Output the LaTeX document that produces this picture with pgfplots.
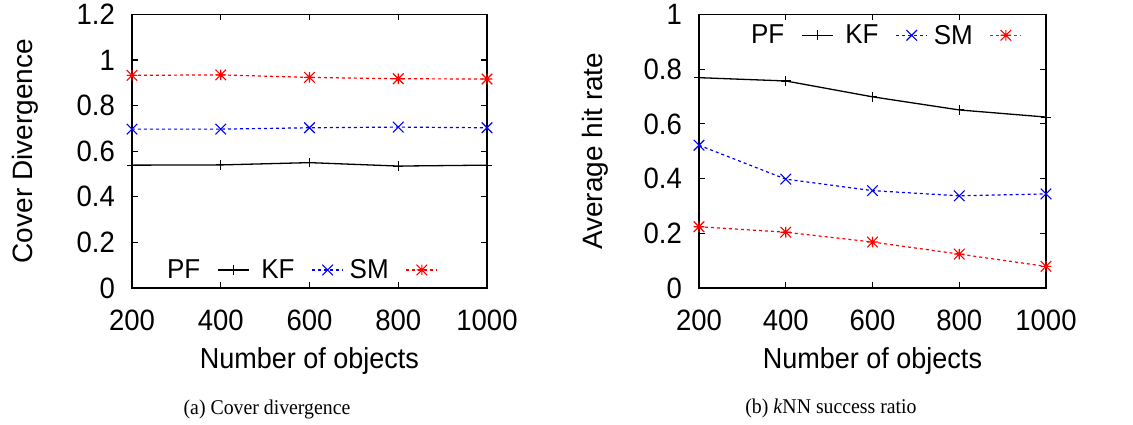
\documentclass[border=0pt]{standalone}
\usepackage{fontspec}
\setmainfont{Liberation Sans}
\newfontfamily\capfont{Liberation Serif}
\usepackage{pgfplots}
\pgfplotsset{compat=1.18}
\pgfdeclareplotmark{gpstar}{%
 \pgfpathmoveto{\pgfqpoint{-\pgfplotmarksize}{0pt}}\pgfpathlineto{\pgfqpoint{\pgfplotmarksize}{0pt}}%
 \pgfpathmoveto{\pgfqpoint{0pt}{-\pgfplotmarksize}}\pgfpathlineto{\pgfqpoint{0pt}{\pgfplotmarksize}}%
 \pgfpathmoveto{\pgfqpoint{-\pgfplotmarksize}{-\pgfplotmarksize}}\pgfpathlineto{\pgfqpoint{\pgfplotmarksize}{\pgfplotmarksize}}%
 \pgfpathmoveto{\pgfqpoint{-\pgfplotmarksize}{\pgfplotmarksize}}\pgfpathlineto{\pgfqpoint{\pgfplotmarksize}{-\pgfplotmarksize}}%
 \pgfusepathqstroke}
\begin{document}
\begin{tikzpicture}[x=1pt,y=1pt]
\path[use as bounding box] (0,0) rectangle (1133,425);
\pgfplotsset{
 mystyle/.style={
  scale only axis, height=273.5pt,
  xmin=200, xmax=1000,
  xtick={200,400,600,800,1000}, xticklabels={200,400,600,800,1000},
  tick align=inside, major tick length=6pt,
  axis line style={line width=1.4pt},
  tick style={line width=1.2pt, black},
  clip=false,
  ticklabel style={font=\fontsize{27.5}{30}\selectfont, yscale=1.07},
  xticklabel style={anchor=base, yshift=-40pt},
  yticklabel style={anchor=east, inner xsep=0pt, xshift=-17pt},
  xlabel style={font=\fontsize{27}{30}\selectfont, yscale=1.07, at={(axis description cs:0.5,-0.296)}, anchor=base},
  ylabel style={font=\fontsize{28}{30}\selectfont},
  legend plot pos=right,
  legend columns=3,
  legend image code/.code={\draw[mark repeat=2,mark phase=2,##1] plot coordinates {(0pt,0pt)(15.5pt,0pt)(31pt,0pt)};},
  legend style={draw=none, fill=none, inner sep=0pt,
    font=\fontsize{26}{30}\selectfont,
    nodes={inner xsep=0pt, inner ysep=0pt, text width=40pt, align=right, yscale=1.05},
    /tikz/every odd column/.append style={column sep=17pt},
    /tikz/every even column/.append style={column sep=5pt}},
 },
 pf/.style={black, solid, line width=1.3pt, mark=+, mark size=4.8pt, mark options={solid, line width=1.1pt}},
 kf/.style={blue, line width=1.2pt, dash pattern=on 3pt off 3pt, mark=x, mark size=7.5pt, mark options={solid, line width=1.1pt}},
 sm/.style={red, line width=1.2pt, dash pattern=on 3pt off 3pt, mark=gpstar, mark size=5.3pt, mark options={solid, line width=1.1pt}},
}
\begin{axis}[mystyle,
  at={(132pt,137pt)}, anchor=south west, width=355pt,
  ymin=0, ymax=1.2,
  ytick={0,0.2,0.4,0.6,0.8,1,1.2}, yticklabels={0,0.2,0.4,0.6,0.8,1,1.2},
  xlabel={Number of objects},
  ylabel={Cover Divergence},
  ylabel style={at={(axis description cs:-0.279,0.5)}, anchor=base},
  legend style={at={(rel axis cs:0.079,0.066)}, anchor=west},
]
\addplot[pf] coordinates {(200,0.539) (400,0.540) (600,0.550) (800,0.535) (1000,0.539)};
\addlegendentry{PF}
\addplot[kf] coordinates {(200,0.697) (400,0.697) (600,0.703) (800,0.706) (1000,0.703)};
\addlegendentry{KF}
\addplot[sm] coordinates {(200,0.933) (400,0.935) (600,0.924) (800,0.918) (1000,0.917)};
\addlegendentry{SM}
\end{axis}
\begin{axis}[mystyle,
  at={(699pt,137pt)}, anchor=south west, width=347pt,
  ymin=0, ymax=1,
  ytick={0,0.2,0.4,0.6,0.8,1}, yticklabels={0,0.2,0.4,0.6,0.8,1},
  xlabel={Number of objects},
  ylabel={Average hit rate},
  ylabel style={at={(axis description cs:-0.277,0.5)}, anchor=base},
  legend style={at={(rel axis cs:0.13,0.924)}, anchor=west},
]
\addplot[pf] coordinates {(200,0.769) (400,0.757) (600,0.699) (800,0.651) (1000,0.625)};
\addlegendentry{PF}
\addplot[kf] coordinates {(200,0.522) (400,0.398) (600,0.356) (800,0.337) (1000,0.344)};
\addlegendentry{KF}
\addplot[sm] coordinates {(200,0.224) (400,0.204) (600,0.168) (800,0.124) (1000,0.079)};
\addlegendentry{SM}
\end{axis}
\node[font=\capfont\fontsize{19.8}{22}\selectfont, anchor=base, yscale=1.06] at (267,10) {(a) Cover divergence};
\node[font=\capfont\fontsize{19.8}{22}\selectfont, anchor=base, yscale=1.06] at (831,11) {(b) \textit{k}NN success ratio};
\end{tikzpicture}
\end{document}
